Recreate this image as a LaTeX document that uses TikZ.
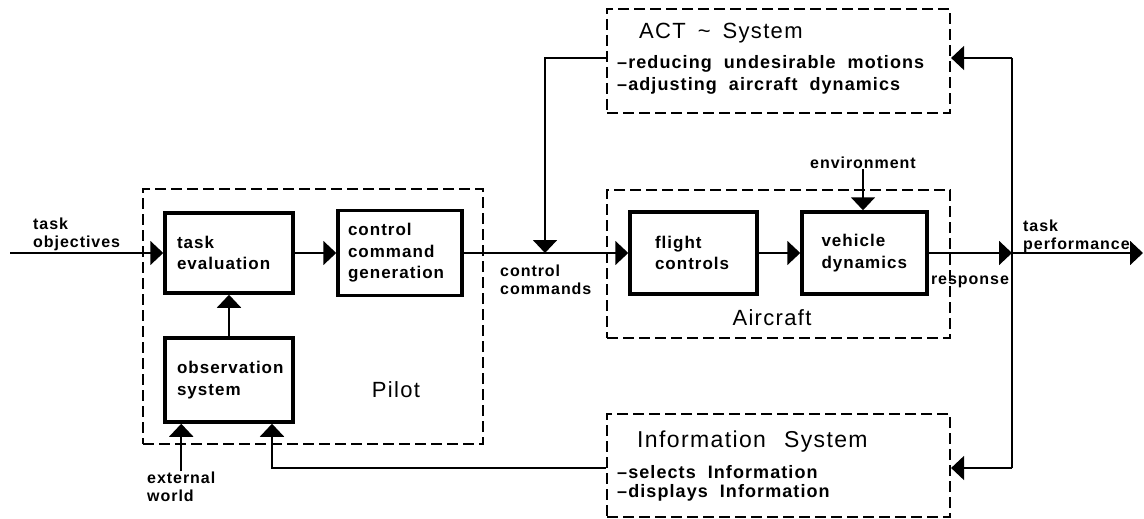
\documentclass[tikz,border=0pt]{standalone}
\usepackage{fontspec}
\setmainfont{Liberation Sans}
\newfontfamily\labfam[LetterSpace=6]{Liberation Sans}
\newfontfamily\ttlfam[LetterSpace=6]{Liberation Sans}
\usetikzlibrary{arrows.meta,calc}
\newcommand\blkfont{\labfam\bfseries\fontsize{17}{21.5}\selectfont}
\newcommand\smfont{\labfam\bfseries\fontsize{16}{18}\selectfont}
\newcommand\lstfont{\labfam\bfseries\fontsize{18}{21}\selectfont}
\newcommand\mybigfont{\ttlfam\fontsize{22}{24}\selectfont}
\newcommand\wg{\hspace{12pt}}
\begin{document}
\begin{tikzpicture}[x=1pt,y=-1pt,
  blk/.style={draw,line width=3.5pt,inner sep=0pt,align=left,font=\blkfont},
  grp/.style={draw,line width=2.2pt,dash pattern=on 11pt off 5pt,inner sep=0pt},
  lbl/.style={inner sep=0pt,align=left,font=\smfont},
  lst/.style={inner sep=0pt,anchor=west,font=\lstfont},
  ttl/.style={inner sep=0pt,font=\mybigfont},
  conn/.style={line width=2pt,-{Triangle[length=13pt,width=24pt]}},
  wire/.style={line width=2pt}]
\fill[white] (0,0) rectangle (1144,519);
\useasboundingbox (0,0) rectangle (1144,519);

% dashed groups
\node[grp,minimum width=340pt,minimum height=255pt] (pilot) at (313,316.5) {};
\node[grp,minimum width=343pt,minimum height=148pt] (aircraft) at (778.5,264) {};
\node[grp,minimum width=343pt,minimum height=104pt] (act) at (778.5,61) {};
\node[grp,minimum width=343pt,minimum height=103pt] (info) at (778.5,465.5) {};

% blocks
\node[blk,minimum width=128pt,minimum height=80pt,text width=104pt] (te) at (229,253) {task\\evaluation};
\node[blk,minimum width=124pt,minimum height=85pt,text width=104pt] (ccg) at (400,253) {control\\command\\generation};
\node[blk,minimum width=128pt,minimum height=84pt,text width=104pt] (obs) at (229,380) {observation\\system};
\node[blk,minimum width=127pt,minimum height=82pt,text width=77pt] (fc) at (693.5,253) {flight\\controls};
\node[blk,minimum width=125pt,minimum height=82pt,text width=86pt] (vd) at (864.5,253) {vehicle\\dynamics};

% labels
\node[lbl,anchor=west] (tobj) at (33,234) {task\\objectives};
\node[lbl,anchor=west] (cc) at (500,279.5) {control\\commands};
\node[lbl] (env) at (863,163) {environment};
\node[lbl] (resp) at (970,282) {response};
\node[lbl,anchor=west] (tperf) at (1023,236.5) {task\\performance};
\node[lbl,anchor=west] (ext) at (147,486.5) {external\\world};
\node[ttl] (pilotT) at (396,390) {Pilot};
\node[ttl] (acftT) at (772,318) {Aircraft};

% ACT system text
\node[ttl,anchor=west] (actT) at (639,33) {ACT\wg\textasciitilde\wg System};
\node[lst] (act1) at (617,64) {–reducing\wg undesirable\wg motions};
\node[lst] (act2) at (617,86) {–adjusting\wg aircraft\wg dynamics};
% Information system text
\node[ttl,anchor=west,font=\ttlfam\fontsize{23}{25}\selectfont] (infT) at (637,442) {Information\hspace{18pt}System};
\node[lst] (inf1) at (617,472) {–selects\wg Information};
\node[lst] (inf2) at (617,493) {–displays\wg Information};

% junction coordinates
\coordinate (src) at (10,253);
\coordinate (jact) at (545,253);
\coordinate (jout) at (1012,253);
\coordinate (jtop) at (1012,58);
\coordinate (jbot) at (1012,468);
\coordinate (out) at (1143,253);

% connectors
\draw[conn] (src) -- (te.west);
\draw[conn] (te.east) -- (ccg.west);
\draw[conn] (obs.north) -- (te.south);
\draw[conn] (ccg.east) -- (fc.west);
\draw[conn] ([yshift=3pt]act.west) -| (jact);
\draw[conn] (fc.east) -- (vd.west);
\draw[conn] (env.south) -- (env.south |- vd.north);
\draw[conn] (vd.east) -- (jout);
\draw[conn] (jout) -- (out);
\draw[wire] (jtop) -- (jbot);
\draw[conn] (jtop) -- ([yshift=3pt]act.east);
\draw[conn] (jbot) -- ([yshift=-2.5pt]info.east);
\draw[conn] ([yshift=-2.5pt]info.west) -| ([xshift=43pt]obs.south);
\draw[conn] (ext.north) -- (ext.north |- obs.south);
\end{tikzpicture}
\end{document}
